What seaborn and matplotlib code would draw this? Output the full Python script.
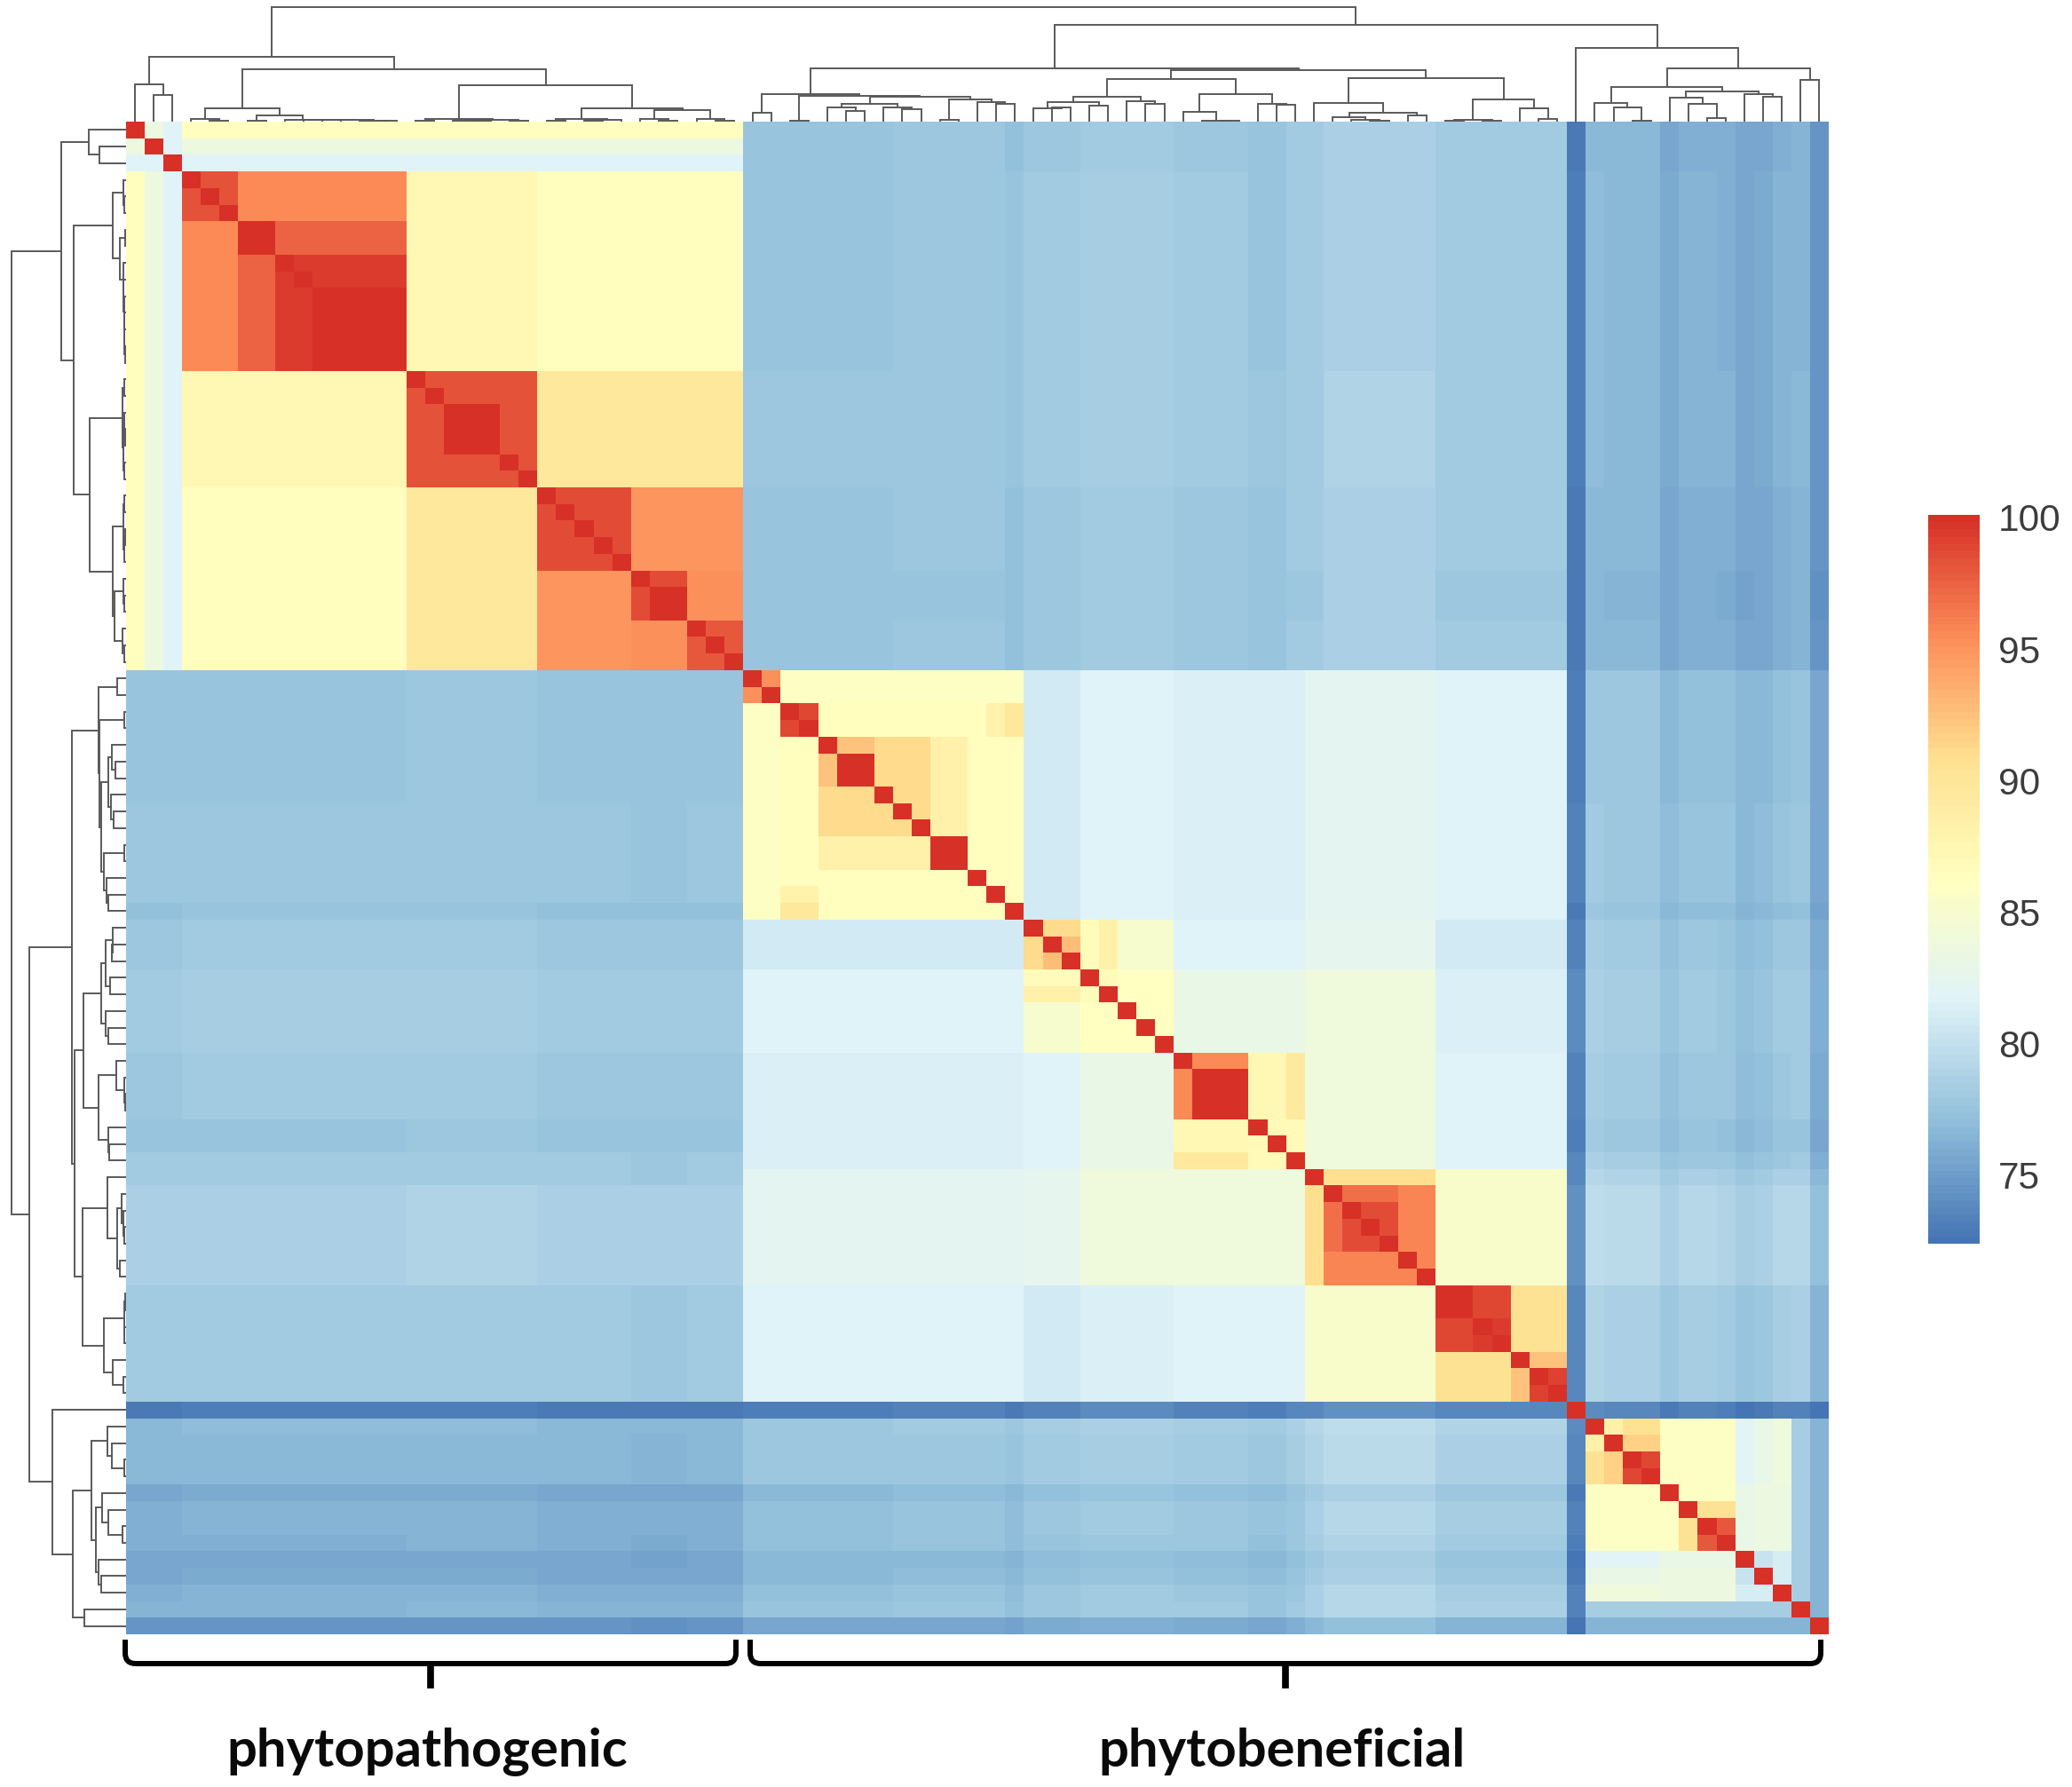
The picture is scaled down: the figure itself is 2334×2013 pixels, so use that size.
import numpy as np
import matplotlib
matplotlib.use("Agg")
import matplotlib.pyplot as plt
from matplotlib.colors import LinearSegmentedColormap
from matplotlib.path import Path
from matplotlib.patches import PathPatch
import seaborn as sns

W, H = 2334, 2013
N_LEAVES = 91
GROUP_LABELS = ["phytopathogenic", "phytobeneficial"]
CBAR_TICKS = [75, 80, 85, 90, 95, 100]
VMIN, VMAX = 72.4, 100.1
PALETTE = ["#4575B4", "#91BFDB", "#E0F3F8", "#FFFFBF", "#FEE090", "#FC8D59", "#D73027"]
# major clusters as leaf ranges: pathogenic, beneficial, lone strain, outgroup
MAJOR_STARTS = [0, 33, 77, 78]

# identity (%) between clusters of leaves: leaves a0:a1 against leaves b0:b1, value
IDENTITY_BLOCKS = [
    (0, 33, 33, 77, 77.7), (0, 33, 78, 91, 76.5), (0, 33, 77, 78, 73.0),
    (33, 77, 77, 78, 73.2), (77, 78, 78, 91, 73.5),
    (33, 48, 78, 91, 77.6), (48, 56, 78, 91, 77.6), (56, 63, 78, 91, 77.7),
    (63, 70, 78, 91, 78.3), (70, 77, 78, 91, 78.1),
    # pathogenic
    (0, 1, 1, 2, 83.5), (0, 2, 2, 3, 81.6),
    (0, 1, 3, 33, 86.5), (1, 2, 3, 33, 83.6), (2, 3, 3, 33, 81.7),
    (3, 15, 15, 22, 87.2), (3, 15, 22, 33, 86.4), (15, 22, 22, 33, 89.8),
    (3, 6, 3, 6, 98.2), (3, 6, 6, 15, 95.5), (6, 8, 6, 8, 99.9), (6, 8, 8, 15, 97.4),
    (8, 15, 8, 15, 99.5), (10, 15, 10, 15, 100.0),
    (15, 22, 15, 22, 98.2), (17, 20, 17, 20, 99.9),
    (22, 27, 22, 27, 98.5), (27, 30, 27, 30, 98.5), (28, 30, 28, 30, 99.9),
    (30, 33, 30, 33, 98.0), (22, 27, 27, 33, 94.9), (27, 30, 30, 33, 95.3),
    # beneficial, between clusters
    (33, 48, 48, 51, 80.8), (33, 48, 51, 56, 81.6), (33, 48, 56, 63, 81.3),
    (33, 48, 63, 70, 82.3), (33, 48, 70, 77, 81.8),
    (48, 51, 56, 63, 81.6), (51, 56, 56, 63, 83.2), (48, 51, 63, 70, 82.6),
    (51, 56, 63, 70, 84.0), (48, 51, 70, 77, 80.8), (51, 56, 70, 77, 81.5),
    (56, 63, 63, 70, 84.0), (56, 63, 70, 77, 81.8), (63, 70, 70, 77, 85.4),
    # beneficial, within clusters
    (33, 48, 33, 48, 86.0), (33, 35, 33, 35, 95.2), (33, 35, 35, 48, 85.8),
    (35, 37, 35, 37, 98.8), (35, 37, 37, 48, 86.4), (35, 37, 46, 47, 88.0),
    (35, 37, 47, 48, 89.6),
    (37, 43, 37, 43, 91.1), (37, 38, 38, 40, 92.5), (38, 40, 38, 40, 100.0),
    (37, 43, 43, 45, 88.4), (37, 43, 45, 48, 86.5),
    (43, 45, 43, 45, 100.0), (43, 45, 45, 48, 86.5), (45, 48, 45, 48, 86.3),
    (48, 51, 48, 51, 91.1), (49, 50, 50, 51, 92.8), (48, 51, 51, 52, 86.6),
    (48, 51, 52, 53, 88.4), (48, 51, 53, 56, 84.9), (51, 53, 51, 53, 86.6),
    (51, 53, 53, 56, 86.0), (53, 56, 53, 56, 86.0),
    (56, 63, 56, 63, 87.0), (56, 60, 56, 60, 95.4), (57, 60, 57, 60, 100.0),
    (56, 60, 60, 62, 87.2), (56, 60, 62, 63, 89.3),
    (63, 70, 63, 70, 90.8), (64, 70, 64, 70, 95.8), (64, 65, 65, 68, 97.0),
    (65, 68, 65, 68, 98.5), (65, 68, 68, 70, 95.8),
    (70, 77, 70, 77, 90.6), (70, 74, 70, 74, 98.8), (70, 72, 70, 72, 100.0),
    (72, 74, 72, 74, 99.3), (74, 75, 75, 77, 92.4), (75, 77, 75, 77, 99.0),
    # outgroup
    (78, 89, 78, 89, 85.9), (78, 79, 79, 80, 88.2), (78, 79, 80, 82, 90.6),
    (79, 80, 80, 82, 91.6), (80, 82, 80, 82, 98.8), (83, 84, 84, 86, 90.6),
    (84, 86, 84, 86, 97.9), (78, 82, 86, 87, 81.9), (78, 82, 87, 88, 83.2),
    (78, 82, 88, 89, 84.0), (82, 86, 86, 87, 83.0), (82, 86, 87, 89, 83.6),
    (86, 89, 86, 89, 81.2), (86, 87, 87, 88, 80.4), (78, 89, 89, 90, 78.4),
    (78, 89, 90, 91, 76.5), (89, 90, 90, 91, 76.4),
]
# per-leaf shading seen as faint stripes where major clusters meet
LEAF_SHADE = [
    -0.1, -0.1, -0.1, 0.0, 0.0, 0.0, 0.0, 0.0, 0.0, 0.0, 0.0, 0.0, 0.0, 0.0, 0.0,
    0.1, 0.1, 0.1, 0.1, 0.1, 0.1, 0.1, -0.1, -0.1, -0.1, -0.1, -0.1, -0.2, -0.2, -0.2,
    -0.1, -0.1, -0.1,
    -0.1, -0.1, -0.1, -0.1, -0.1, -0.1, -0.1, -0.1, 0.1, 0.1, 0.1, 0.1, 0.1, 0.1, -0.3,
    0.3, 0.3, 0.3, 0.6, 0.6, 0.6, 0.6, 0.6, 0.3, 0.3, 0.3, 0.3, -0.1, -0.1, 0.4, 0.4,
    1.0, 1.0, 1.0, 1.0, 1.0, 1.0, 0.4, 0.4, 0.4, 0.4, 0.4, 0.4, 0.4,
    0.0,
    0.4, 0.2, 0.2, 0.2, -0.7, -0.2, -0.2, -0.3, -0.9, -0.7, -0.2, 0.0, -2.0,
]

# dendrogram: (merge height, left, right); L is one leaf. The tree is the same for rows and columns.
L = None
TREE_A = (73.0,
          (42.0, L, (30.0, L, L)),
          (58.7,
           (15.0,
            (3.0, L, (1.5, L, L)),
            (6.6, (1.0, L, L),
             (2.5, L, (2.2, L, (1.9, L, (1.6, L, (1.3, L, (1.0, L, L)))))))),
           (41.0,
            (3.2, (1.5, L, L), (2.4, (1.4, L, (0.8, L, L)), (1.2, L, L))),
            (15.0,
             (3.0, (1.4, L, L), (2.0, (1.0, L, L), L)),
             (13.0,
              (3.0, L, (1.5, L, L)),
              (3.2, L, (1.5, L, L)))))))
TREE_F = (60.5,
          (30.7,
           (10.0, L, L),
           (29.5,
            (1.2, L, L),
            (28.0,
             (20.0,
              (16.0, L, (12.0, L, L)),
              (16.5, L, (14.0, L, L))),
             (25.0,
              (2.0, L, L),
              (22.0, L, (20.0, L, L)))))),
          (58.0,
           (48.0,
            (28.0,
             (22.5, (15.0, L, (16.0, L, L)), (18.0, L, L)),
             (23.0, L, (20.0, L, L))),
            (30.7,
             (10.7, L, (1.5, L, (1.0, L, L))),
             (20.0, L, (19.0, L, L)))),
           (49.0,
            (21.0,
             L,
             (10.0,
              (5.0, L, (2.5, L, (1.5, L, L))),
              (7.0, L, L))),
            (25.0,
             (1.8, (1.0, L, L), (1.2, L, L)),
             (15.0, L, (3.0, L, L))))))
TREE_G = (83.0,
          L,
          (60.0,
           (39.0,
            (20.7, L, (16.0, L, (1.5, L, L))),
            (34.0,
             (26.7, L, (20.0, L, (4.0, L, L))),
             (30.7, L, (28.0, L, L)))),
           (47.0, L, L)))
TREE = (129.0, TREE_A, (109.0, TREE_F, TREE_G))


def build_matrix():
    m = np.full((N_LEAVES, N_LEAVES), 80.0)
    for a0, a1, b0, b1, v in IDENTITY_BLOCKS:
        m[a0:a1, b0:b1] = v
        m[b0:b1, a0:a1] = v
    shade = np.array(LEAF_SHADE)
    major = np.searchsorted(MAJOR_STARTS, np.arange(N_LEAVES), side="right")
    cross = major[:, None] != major[None, :]
    m = m + cross * (shade[:, None] + shade[None, :])
    np.fill_diagonal(m, 100.0)
    return m


def draw_tree(ax, node, orient, next_leaf):
    """Draws a node, returns (centre position, height)."""
    if node is None:
        pos = next_leaf[0] + 0.5
        next_leaf[0] += 1
        return pos, 0.0
    h, left, right = node
    p0, h0 = draw_tree(ax, left, orient, next_leaf)
    p1, h1 = draw_tree(ax, right, orient, next_leaf)
    a = [p0, p0, p1, p1]
    b = [h0, h, h, h1]
    if orient == "top":
        ax.plot(a, b, color="#5a5a5a", lw=1.4, solid_joinstyle="miter", solid_capstyle="projecting")
    else:
        ax.plot(b, a, color="#5a5a5a", lw=1.4, solid_joinstyle="miter", solid_capstyle="projecting")
    return (p0 + p1) / 2, h


def px_axes(fig, x0, y0, x1, y1):
    return fig.add_axes([x0 / W, 1 - y1 / H, (x1 - x0) / W, (y1 - y0) / H])


sns.set_theme(style="white")
plt.rcParams["font.family"] = ["Liberation Sans", "DejaVu Sans"]
fig = plt.figure(figsize=(W / 100, H / 100), dpi=100, facecolor="white")

HM = (141.5, 137, 2060, 1841)
ax = px_axes(fig, *HM)
cax = px_axes(fig, 2172, 580, 2230, 1401)
cmap = LinearSegmentedColormap.from_list("pheatmap", PALETTE, N=100)
sns.heatmap(build_matrix(), ax=ax, cbar_ax=cax, cmap=cmap, vmin=VMIN, vmax=VMAX,
            xticklabels=False, yticklabels=False, linewidths=0,
            cbar_kws={"ticks": CBAR_TICKS})
cax.tick_params(length=0, labelsize=30.5, labelcolor="#3c3c3c", pad=15)
ax.collections[0].colorbar.outline.set_visible(False)

top = px_axes(fig, HM[0], 0, HM[2], HM[1])
draw_tree(top, TREE, "top", [0])
top.set_xlim(0, N_LEAVES)
top.set_ylim(0, HM[1])
top.axis("off")

left = px_axes(fig, 0, HM[1], HM[0], HM[3])
draw_tree(left, TREE, "left", [0])
left.set_ylim(N_LEAVES, 0)
left.set_xlim(HM[0], 0)
left.axis("off")

# brackets and group labels, in figure pixels
over = px_axes(fig, 0, 0, W, H)
over.set_xlim(0, W)
over.set_ylim(H, 0)
over.axis("off")
over.patch.set_alpha(0)


def bracket(x0, x1, label):
    ytop, ybar, ytick, r = 1847, 1874, 1902, 12
    mid = (x0 + x1) / 2
    verts = [(x0, ytop), (x0, ybar - r), (x0, ybar), (x0 + r, ybar),
             (x1 - r, ybar), (x1, ybar), (x1, ybar - r), (x1, ytop)]
    codes = [Path.MOVETO, Path.LINETO, Path.CURVE3, Path.CURVE3,
             Path.LINETO, Path.CURVE3, Path.CURVE3, Path.LINETO]
    over.add_patch(PathPatch(Path(verts, codes), fc="none", ec="black", lw=4.3, capstyle="butt"))
    over.plot([mid, mid], [ybar, ytick], color="black", lw=5.5, solid_capstyle="butt")
    over.text(mid - 4, 1990, label, ha="center", va="baseline", fontsize=43,
              fontweight="bold", family=["Lato", "DejaVu Sans"], color="#0a0a0a")


bracket(141, 829, GROUP_LABELS[0])
bracket(845, 2051, GROUP_LABELS[1])

fig.savefig("out.png", dpi=100, facecolor="white")
